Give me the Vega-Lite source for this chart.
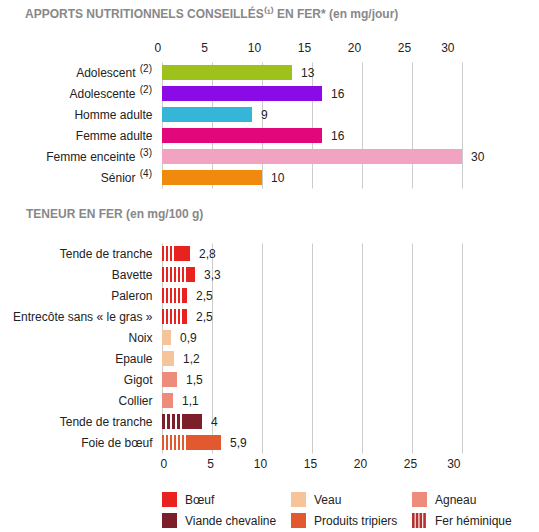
{
  "$schema": "https://vega.github.io/schema/vega-lite/v6.json",
  "padding": {"left": 4, "top": 8, "right": 5, "bottom": 5},
  "background": "white",
  "config": {
    "font": "Liberation Sans",
    "view": {"stroke": null},
    "locale": {"number": {"decimal": ",", "thousands": " ", "grouping": [3], "currency": ["", " €"]}},
    "axis": {"labelFont": "Liberation Sans", "labelFontSize": 12, "labelColor": "#222", "ticks": false, "domain": false, "title": null},
    "legend": {"gridAlign": "none"},
    "title": {"font": "Liberation Sans", "fontSize": 12, "fontWeight": "bold", "color": "#888", "anchor": "start", "frame": "bounds"}
  },
  "spacing": 20,
  "resolve": {"scale": {"color": "independent"}},
  "vconcat": [
    {
      "title": {"text": "APPORTS NUTRITIONNELS CONSEILLÉS⁽¹⁾ EN FER* (en mg/jour)", "dx": 21, "offset": 20},
      "data": {"values": [
        {"profil": "Adolescent", "renvoi": "(2)", "valeur": 13},
        {"profil": "Adolescente", "renvoi": "(2)", "valeur": 16},
        {"profil": "Homme adulte", "valeur": 9},
        {"profil": "Femme adulte", "valeur": 16},
        {"profil": "Femme enceinte", "renvoi": "(3)", "valeur": 30},
        {"profil": "Sénior", "renvoi": "(4)", "valeur": 10}
      ]},
      "width": 300,
      "height": {"step": 21},
      "encoding": {
        "y": {"field": "profil", "type": "nominal", "sort": null, "scale": {"paddingInner": 0.286, "paddingOuter": 0.143},
          "axis": {"labelPadding": {"condition": {"test": "indexof(['Adolescent','Adolescente','Femme enceinte','Sénior'], datum.value) >= 0", "value": 27}, "value": 10}, "minExtent": 158, "maxExtent": 158}},
        "x": {"field": "valeur", "type": "quantitative", "scale": {"domain": [0, 30], "nice": false}, "axis": {"orient": "top", "values": [0, 5, 10, 15, 20, 25, 30], "grid": true, "gridColor": "#cccccc", "labelPadding": 8, "labelOffset": -8}}
      },
      "layer": [
        {"mark": {"type": "bar"}, "encoding": {
          "color": {"field": "profil", "type": "nominal", "legend": null, "scale": {
            "domain": ["Adolescent", "Adolescente", "Homme adulte", "Femme adulte", "Femme enceinte", "Sénior"],
            "range": ["#9ec11b", "#8a0be6", "#35b6d8", "#e2077a", "#f2a3c2", "#f08a0c"]}}
        }},
        {"mark": {"type": "text", "align": "left", "baseline": "middle", "dx": 9, "fontSize": 12, "color": "#222"}, "encoding": {"text": {"field": "valeur", "type": "quantitative"}}},
        {"transform": [{"filter": "isValid(datum.renvoi)"}],
         "mark": {"type": "text", "align": "right", "baseline": "middle", "dx": -10, "dy": -4, "fontSize": 10, "color": "#222"},
         "encoding": {"x": {"datum": 0, "type": "quantitative"}, "text": {"field": "renvoi"}}}
      ]
    },
    {
      "title": {"text": "TENEUR EN FER (en mg/100 g)", "dx": 22, "offset": 22},
      "data": {"values": [
        {"aliment": "Tende de tranche", "categorie": "Bœuf", "total": 2.8, "heme": 1.2},
        {"aliment": "Bavette", "categorie": "Bœuf", "total": 3.3, "heme": 2.4},
        {"aliment": "Paleron", "categorie": "Bœuf", "total": 2.5, "heme": 2.0},
        {"aliment": "Entrecôte sans « le gras »", "categorie": "Bœuf", "total": 2.5, "heme": 2.0},
        {"aliment": "Noix", "categorie": "Veau", "total": 0.9},
        {"aliment": "Epaule", "categorie": "Veau", "total": 1.2},
        {"aliment": "Gigot", "categorie": "Agneau", "total": 1.5},
        {"aliment": "Collier", "categorie": "Agneau", "total": 1.1},
        {"aliment": "Tende de tranche\u200b", "categorie": "Viande chevaline", "total": 4, "heme": 2.0},
        {"aliment": "Foie de bœuf", "categorie": "Produits tripiers", "total": 5.9, "heme": 2.4}
      ]},
      "width": 300,
      "height": {"step": 21},
      "resolve": {"scale": {"color": "independent", "shape": "independent"}},
      "encoding": {
        "y": {"field": "aliment", "type": "nominal", "sort": null, "scale": {"paddingInner": 0.286, "paddingOuter": 0.143}, "axis": {"labelPadding": 10, "minExtent": 158, "maxExtent": 158}},
        "x": {"field": "total", "type": "quantitative", "scale": {"domain": [0, 30], "nice": false}, "axis": {"orient": "bottom", "values": [0, 5, 10, 15, 20, 25, 30], "grid": true, "gridColor": "#cccccc", "labelPadding": 5, "labelOffset": -2}}
      },
      "layer": [
        {"mark": {"type": "bar"}, "encoding": {
          "color": {"field": "categorie", "type": "nominal", "legend": null,
            "scale": {
              "domain": ["Bœuf", "Veau", "Agneau", "Viande chevaline", "Produits tripiers"],
              "range": ["#e8231f", "#f6c49a", "#ee8c7c", "#7d1f2b", "#e2582f"]}}
        }},
        {"mark": {"type": "point", "filled": true, "size": 0, "strokeWidth": 0, "opacity": 1},
         "encoding": {
           "color": {"field": "categorie", "type": "nominal",
             "scale": {
               "domain": ["Bœuf", "Veau", "Agneau", "Viande chevaline", "Produits tripiers", "Fer héminique"],
               "range": ["#e8231f", "#f6c49a", "#ee8c7c", "#7d1f2b", "#e2582f", "#b5302e"]},
             "legend": {"orient": "bottom", "direction": "horizontal", "columns": 3, "gridAlign": "none", "title": null,
              "values": ["Bœuf", "Veau", "Agneau", "Viande chevaline", "Produits tripiers", "Fer héminique"],
              "symbolSize": 225, "symbolStrokeWidth": 0, "symbolOpacity": 1, "labelFontSize": 12, "labelColor": "#222", "labelFont": "Liberation Sans",
              "labelOffset": 8, "rowPadding": 6, "columnPadding": 14, "offset": 23}},
           "shape": {"field": "categorie", "type": "nominal",
             "scale": {
               "domain": ["Bœuf", "Veau", "Agneau", "Viande chevaline", "Produits tripiers", "Fer héminique"],
               "range": ["square", "square", "square", "square", "square", "M-1,-1H-0.65V1H-1Z M-0.5,-1H-0.15V1H-0.5Z M0,-1H0.35V1H0Z M0.5,-1H0.85V1H0.5Z"]},
             "legend": {"orient": "bottom", "direction": "horizontal", "columns": 3, "gridAlign": "none", "title": null,
              "values": ["Bœuf", "Veau", "Agneau", "Viande chevaline", "Produits tripiers", "Fer héminique"],
              "symbolSize": 225, "symbolStrokeWidth": 0, "symbolOpacity": 1, "labelFontSize": 12, "labelColor": "#222", "labelFont": "Liberation Sans",
              "labelOffset": 8, "rowPadding": 6, "columnPadding": 14, "offset": 23}}
         }},
        {"transform": [{"filter": "datum.categorie === 'Bœuf' && datum.heme < 1.5"}],
         "mark": {"type": "bar", "fill": {"gradient": "linear", "x1": 0, "y1": 0, "x2": 1, "y2": 0, "stops": [
                  {"offset": 0, "color": "#e8231f"}, {"offset": 0.1667, "color": "#e8231f"}, {"offset": 0.1667, "color": "#ffffff"}, {"offset": 0.3333, "color": "#ffffff"},
                  {"offset": 0.3333, "color": "#e8231f"}, {"offset": 0.5, "color": "#e8231f"}, {"offset": 0.5, "color": "#ffffff"}, {"offset": 0.6667, "color": "#ffffff"},
                  {"offset": 0.6667, "color": "#e8231f"}, {"offset": 0.8333, "color": "#e8231f"}, {"offset": 0.8333, "color": "#ffffff"}, {"offset": 1, "color": "#ffffff"}]}},
         "encoding": {"x": {"field": "heme", "type": "quantitative"}}},
        {"transform": [{"filter": "datum.categorie === 'Bœuf' && datum.heme >= 1.5 && datum.heme < 2.2"}],
         "mark": {"type": "bar", "fill": {"gradient": "linear", "x1": 0, "y1": 0, "x2": 1, "y2": 0, "stops": [
                  {"offset": 0, "color": "#e8231f"}, {"offset": 0.1, "color": "#e8231f"}, {"offset": 0.1, "color": "#ffffff"}, {"offset": 0.2, "color": "#ffffff"},
                  {"offset": 0.2, "color": "#e8231f"}, {"offset": 0.3, "color": "#e8231f"}, {"offset": 0.3, "color": "#ffffff"}, {"offset": 0.4, "color": "#ffffff"},
                  {"offset": 0.4, "color": "#e8231f"}, {"offset": 0.5, "color": "#e8231f"}, {"offset": 0.5, "color": "#ffffff"}, {"offset": 0.6, "color": "#ffffff"},
                  {"offset": 0.6, "color": "#e8231f"}, {"offset": 0.7, "color": "#e8231f"}, {"offset": 0.7, "color": "#ffffff"}, {"offset": 0.8, "color": "#ffffff"},
                  {"offset": 0.8, "color": "#e8231f"}, {"offset": 0.9, "color": "#e8231f"}, {"offset": 0.9, "color": "#ffffff"}, {"offset": 1, "color": "#ffffff"}]}},
         "encoding": {"x": {"field": "heme", "type": "quantitative"}}},
        {"transform": [{"filter": "datum.categorie === 'Bœuf' && datum.heme >= 2.2"}],
         "mark": {"type": "bar", "fill": {"gradient": "linear", "x1": 0, "y1": 0, "x2": 1, "y2": 0, "stops": [
                  {"offset": 0, "color": "#e8231f"}, {"offset": 0.0833, "color": "#e8231f"}, {"offset": 0.0833, "color": "#ffffff"}, {"offset": 0.1667, "color": "#ffffff"},
                  {"offset": 0.1667, "color": "#e8231f"}, {"offset": 0.25, "color": "#e8231f"}, {"offset": 0.25, "color": "#ffffff"}, {"offset": 0.3333, "color": "#ffffff"},
                  {"offset": 0.3333, "color": "#e8231f"}, {"offset": 0.4167, "color": "#e8231f"}, {"offset": 0.4167, "color": "#ffffff"}, {"offset": 0.5, "color": "#ffffff"},
                  {"offset": 0.5, "color": "#e8231f"}, {"offset": 0.5833, "color": "#e8231f"}, {"offset": 0.5833, "color": "#ffffff"}, {"offset": 0.6667, "color": "#ffffff"},
                  {"offset": 0.6667, "color": "#e8231f"}, {"offset": 0.75, "color": "#e8231f"}, {"offset": 0.75, "color": "#ffffff"}, {"offset": 0.8333, "color": "#ffffff"},
                  {"offset": 0.8333, "color": "#e8231f"}, {"offset": 0.9167, "color": "#e8231f"}, {"offset": 0.9167, "color": "#ffffff"}, {"offset": 1, "color": "#ffffff"}]}},
         "encoding": {"x": {"field": "heme", "type": "quantitative"}}},
        {"transform": [{"filter": "datum.categorie === 'Viande chevaline'"}],
         "mark": {"type": "bar", "fill": {"gradient": "linear", "x1": 0, "y1": 0, "x2": 1, "y2": 0, "stops": [
                  {"offset": 0, "color": "#7d1f2b"}, {"offset": 0.125, "color": "#7d1f2b"}, {"offset": 0.125, "color": "#ffffff"}, {"offset": 0.25, "color": "#ffffff"},
                  {"offset": 0.25, "color": "#7d1f2b"}, {"offset": 0.375, "color": "#7d1f2b"}, {"offset": 0.375, "color": "#ffffff"}, {"offset": 0.5, "color": "#ffffff"},
                  {"offset": 0.5, "color": "#7d1f2b"}, {"offset": 0.625, "color": "#7d1f2b"}, {"offset": 0.625, "color": "#ffffff"}, {"offset": 0.75, "color": "#ffffff"},
                  {"offset": 0.75, "color": "#7d1f2b"}, {"offset": 0.875, "color": "#7d1f2b"}, {"offset": 0.875, "color": "#ffffff"}, {"offset": 1, "color": "#ffffff"}]}},
         "encoding": {"x": {"field": "heme", "type": "quantitative"}}},
        {"transform": [{"filter": "datum.categorie === 'Produits tripiers'"}],
         "mark": {"type": "bar", "fill": {"gradient": "linear", "x1": 0, "y1": 0, "x2": 1, "y2": 0, "stops": [
                  {"offset": 0, "color": "#e2582f"}, {"offset": 0.0833, "color": "#e2582f"}, {"offset": 0.0833, "color": "#ffffff"}, {"offset": 0.1667, "color": "#ffffff"},
                  {"offset": 0.1667, "color": "#e2582f"}, {"offset": 0.25, "color": "#e2582f"}, {"offset": 0.25, "color": "#ffffff"}, {"offset": 0.3333, "color": "#ffffff"},
                  {"offset": 0.3333, "color": "#e2582f"}, {"offset": 0.4167, "color": "#e2582f"}, {"offset": 0.4167, "color": "#ffffff"}, {"offset": 0.5, "color": "#ffffff"},
                  {"offset": 0.5, "color": "#e2582f"}, {"offset": 0.5833, "color": "#e2582f"}, {"offset": 0.5833, "color": "#ffffff"}, {"offset": 0.6667, "color": "#ffffff"},
                  {"offset": 0.6667, "color": "#e2582f"}, {"offset": 0.75, "color": "#e2582f"}, {"offset": 0.75, "color": "#ffffff"}, {"offset": 0.8333, "color": "#ffffff"},
                  {"offset": 0.8333, "color": "#e2582f"}, {"offset": 0.9167, "color": "#e2582f"}, {"offset": 0.9167, "color": "#ffffff"}, {"offset": 1, "color": "#ffffff"}]}},
         "encoding": {"x": {"field": "heme", "type": "quantitative"}}},
        {"mark": {"type": "text", "align": "left", "baseline": "middle", "dx": 9, "fontSize": 12, "color": "#222"}, "encoding": {"text": {"field": "total", "type": "quantitative", "format": "~g"}}}
      ]
    }
  ]
}
